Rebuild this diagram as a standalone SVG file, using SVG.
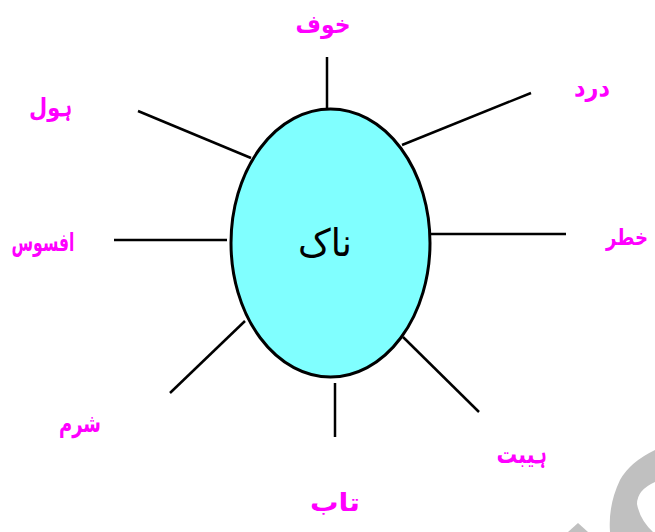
<svg xmlns="http://www.w3.org/2000/svg" width="655" height="532" viewBox="0 0 655 532">
<style>
.lbl{font-family:"DejaVu Sans",sans-serif;font-size:25px;font-weight:bold;fill:#FF00FF;text-anchor:middle;direction:rtl}
.c{stroke:#000;stroke-width:2.5;fill:none}
</style>
<rect width="655" height="532" fill="#fff"/>
<g id="watermark" fill="#C0C0C0">
<path d="M655,450 Q630,462 620,480 Q608,505 610,532 L653,532 Q640,520 637,504 Q637,490 655,482 Z"/>
<path d="M568,532 L578,523 L588,532 Z"/>
</g>
<g id="connectors">
<line class="c" x1="327" y1="57" x2="327" y2="108"/>
<line class="c" x1="402" y1="145" x2="531" y2="93"/>
<line class="c" x1="430" y1="234" x2="566" y2="234"/>
<line class="c" x1="403" y1="337" x2="479" y2="412"/>
<line class="c" x1="335" y1="383" x2="335" y2="437"/>
<line class="c" x1="245" y1="321" x2="170" y2="393"/>
<line class="c" x1="114" y1="240" x2="227" y2="240"/>
<line class="c" x1="138" y1="111" x2="251" y2="158"/>
</g>
<g id="center">
<ellipse cx="330.5" cy="243" rx="99.5" ry="134" fill="#80FFFF" stroke="#000" stroke-width="3"/>
<text x="325" y="256" textLength="54" lengthAdjust="spacingAndGlyphs" style="font-family:'DejaVu Sans',sans-serif;font-size:38px;fill:#000;text-anchor:middle;direction:rtl">ناک</text>
</g>
<g id="n-khauf"><text class="lbl" x="323" y="33" textLength="55" lengthAdjust="spacingAndGlyphs">خوف</text></g>
<g id="n-dard"><text class="lbl" x="592" y="96" textLength="36" lengthAdjust="spacingAndGlyphs">درد</text></g>
<g id="n-hol"><text class="lbl" x="51" y="116" textLength="44" lengthAdjust="spacingAndGlyphs">ہول</text></g>
<g id="n-afsos"><text class="lbl" x="43" y="251" textLength="63" lengthAdjust="spacingAndGlyphs">افسوس</text></g>
<g id="n-khatar"><text class="lbl" x="627" y="245" textLength="42" lengthAdjust="spacingAndGlyphs" style="font-size:23px">خطر</text></g>
<g id="n-sharm"><text class="lbl" x="80" y="432" textLength="42" lengthAdjust="spacingAndGlyphs">شرم</text></g>
<g id="n-haibat"><text class="lbl" x="522" y="463" textLength="51" lengthAdjust="spacingAndGlyphs">ہیبت</text></g>
<g id="n-taab"><text class="lbl" x="335" y="511" textLength="50" lengthAdjust="spacingAndGlyphs">تاب</text></g>
</svg>
